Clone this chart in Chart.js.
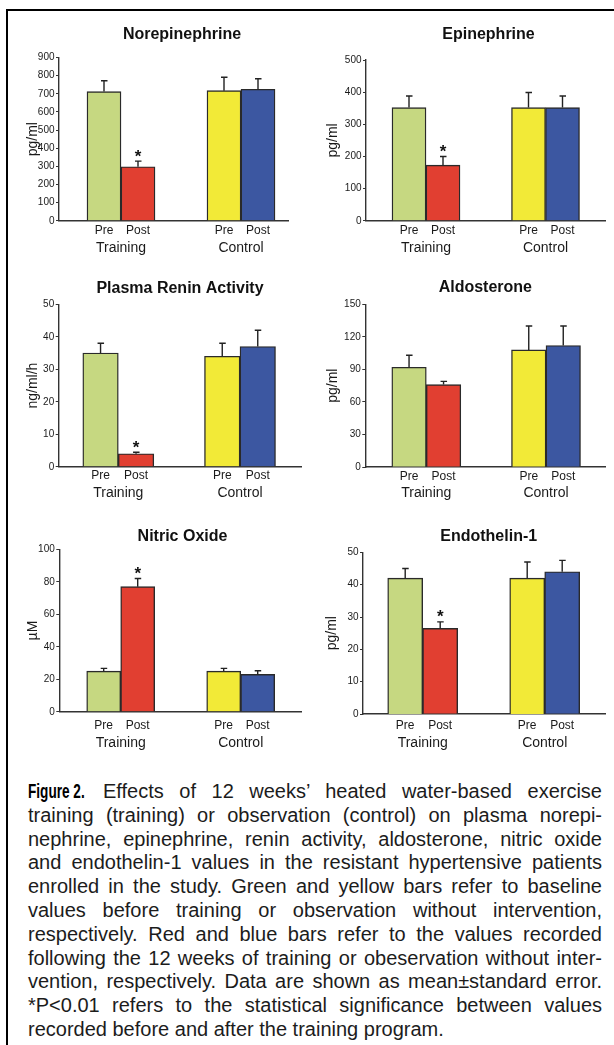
<!DOCTYPE html>
<html><head><meta charset="utf-8">
<script src="https://cdn.jsdelivr.net/npm/chart.js@4.4.1/dist/chart.umd.min.js"></script>
<style>
html,body{margin:0;padding:0;width:614px;height:1045px;overflow:hidden;background:#fff;}
#frame{position:absolute;left:6px;top:9px;width:800px;height:1200px;border:2.6px solid #000;box-sizing:border-box;}
.pw{position:absolute;}
#cap{position:absolute;left:28px;top:780px;width:574px;font-family:"Liberation Sans",Arial,sans-serif;font-size:20px;line-height:23.8px;color:#1c1c1c;}
#cap div{text-align:justify;text-align-last:justify;}
#cap div.last{text-align:left;text-align-last:left;}
.fig{display:inline-block;width:57px;margin-right:18px;}
.fig span{display:inline-block;transform:scaleX(0.68);transform-origin:0 50%;white-space:nowrap;font-weight:bold;color:#000;}
</style></head>
<body>
<div id="frame"></div>
<div id="charts"></div>
<div id="cap">
<div><span class="fig"><span>Figure 2.</span></span>Effects of 12 weeks’ heated water-based exercise</div>
<div>training (training) or observation (control) on plasma norepi-</div>
<div>nephrine, epinephrine, renin activity, aldosterone, nitric oxide</div>
<div>and endothelin-1 values in the resistant hypertensive patients</div>
<div>enrolled in the study. Green and yellow bars refer to baseline</div>
<div>values before training or observation without intervention,</div>
<div>respectively. Red and blue bars refer to the values recorded</div>
<div>following the 12 weeks of training or obeservation without inter-</div>
<div>vention, respectively. Data are shown as mean±standard error.</div>
<div>*P&lt;0.01 refers to the statistical significance between values</div>
<div class="last">recorded before and after the training program.</div>
</div>
<script>
// ---- data ----
const panelTitles = ["Norepinephrine", "Epinephrine", "Plasma Renin Activity", "Aldosterone", "Nitric Oxide", "Endothelin-1"];
const yUnits = ["pg/ml", "pg/ml", "ng/ml/h", "pg/ml", "µM", "pg/ml"];
const yMax = [900, 500, 50, 150, 100, 50];
const yStep = [100, 100, 10, 30, 20, 10];
const groupLabels = ["Training", "Control"];
const phaseLabels = ["Pre", "Post"];
const preMeans   = [[712, 717], [352, 352], [35, 34], [92, 108], [25, 25], [42, 42]];
const preErrors  = [[60, 74], [36, 47], [3, 4], [11, 22], [1.7, 1.7], [3, 5]];
const postMeans  = [[298, 725], [173, 352], [4, 37], [76, 112], [77, 23], [26.5, 44]];
const postErrors = [[31, 58], [27, 36], [0.5, 5], [3, 18], [5, 2.3], [2, 3.5]];
const postStars  = [[true, false], [true, false], [true, false], [false, false], [true, false], [true, false]];

// ---- styles / layout ----
const preColors = ["#c6d881", "#f2ea37"];
const postColors = ["#e13f31", "#3c57a1"];
const FONT = '"Liberation Sans", Arial, sans-serif';
const INK = '#1a1a1a';
// axisX, axisEnd, trainCenter, ctrlCenter, barW, titleX, titleY, topY, zeroY, preY, trainY, unitOffset
const panelLayout = [
  [59, 288, 121, 241, 34, 182, 35, 57.5, 220.7, 231, 248.3, 26],
  [366, 605, 426, 545.5, 34, 488.5, 35, 60, 220.7, 231, 248.3, 33],
  [58.7, 301, 118.3, 240, 35.5, 180, 288.3, 304.3, 466.7, 476, 493.3, 25.5],
  [365.3, 605, 426.3, 546, 34.5, 485.3, 288, 304.3, 466.7, 476.7, 493, 32.5],
  [59.3, 301, 120.7, 240.7, 34, 182.5, 536.7, 549.3, 711.7, 725.7, 743.3, 26],
  [363, 605, 422.7, 544.7, 35, 488.7, 536.7, 552.3, 714, 725.7, 743.3, 31]
];

const panelTitlePlugin = {
  id: 'panelTitle',
  afterDraw(chart, args, opts) {
    const ctx = chart.ctx;
    ctx.save();
    ctx.font = 'bold 16px ' + FONT;
    ctx.fillStyle = '#111';
    ctx.textAlign = 'center';
    ctx.textBaseline = 'middle';
    ctx.fillText(opts.text, opts.x, opts.y);
    ctx.restore();
  }
};

const errorBarPlugin = {
  id: 'errorBars',
  afterDatasetsDraw(chart) {
    const ctx = chart.ctx;
    const yScale = chart.scales.y;
    ctx.save();
    ctx.strokeStyle = '#222';
    ctx.lineWidth = 1.4;
    chart.data.datasets.forEach((ds, di) => {
      const meta = chart.getDatasetMeta(di);
      meta.data.forEach((bar, j) => {
        const v = ds.data[j].y;
        const yTop = yScale.getPixelForValue(v + ds.errors[j]);
        ctx.beginPath();
        ctx.moveTo(bar.x, bar.y);
        ctx.lineTo(bar.x, yTop);
        ctx.moveTo(bar.x - 3, yTop);
        ctx.lineTo(bar.x + 3.5, yTop);
        ctx.stroke();
        if (ds.stars[j]) {
          ctx.font = 'bold 17px ' + FONT;
          ctx.fillStyle = '#111';
          ctx.textAlign = 'center';
          ctx.textBaseline = 'alphabetic';
          ctx.fillText('*', bar.x, yTop + 0.5);
        }
      });
    });
    ctx.restore();
  }
};

const holder = document.getElementById('charts');
panelLayout.forEach((L, i) => {
  const [axisX, axisEnd, tC, cC, barW, titleX, titleY, topY, zeroY, preY, trainY, unitOff] = L;
  const left = Math.floor(axisX - 50);
  const yW = axisX - left;
  const top = Math.floor(titleY - 14);
  const width = Math.ceil(axisEnd - left + 4);
  const h1 = trainY - zeroY - 8.4;
  const h2 = 22;
  const height = Math.ceil(zeroY - top + h1 + h2);
  const ppu = cC - tC;
  const xMin = 1 - (tC - axisX) / ppu;
  const xMax = 2 + (axisEnd - cC) / ppu;
  const half = barW / 2 / ppu;

  const wrap = document.createElement('div');
  wrap.className = 'pw';
  wrap.style.left = left + 'px';
  wrap.style.top = top + 'px';
  wrap.style.width = width + 'px';
  wrap.style.height = height + 'px';
  const canvas = document.createElement('canvas');
  wrap.appendChild(canvas);
  holder.appendChild(wrap);

  new Chart(canvas, {
    type: 'bar',
    data: {
      datasets: [
        { label: phaseLabels[0], xAxisID: 'x', yAxisID: 'y',
          data: groupLabels.map((g, k) => ({ x: k + 1, y: preMeans[i][k] })),
          errors: preErrors[i], stars: [false, false],
          backgroundColor: preColors },
        { label: phaseLabels[1], xAxisID: 'x', yAxisID: 'y',
          data: groupLabels.map((g, k) => ({ x: k + 1, y: postMeans[i][k] })),
          errors: postErrors[i], stars: postStars[i],
          backgroundColor: postColors }
      ]
    },
    plugins: [panelTitlePlugin, errorBarPlugin],
    options: {
      responsive: true,
      maintainAspectRatio: false,
      animation: false,
      events: [],
      layout: { padding: { top: topY - top, right: width - (axisEnd - left), left: 0, bottom: 0 } },
      datasets: { bar: { barThickness: barW, borderWidth: 1.4, borderColor: '#2a2a2a', borderSkipped: 'start' } },
      plugins: {
        legend: { display: false },
        tooltip: { enabled: false },
        title: { display: false },
        panelTitle: { text: panelTitles[i], x: titleX - left, y: titleY - top }
      },
      scales: {
        x: {
          type: 'linear', position: 'bottom', weight: 0, min: xMin, max: xMax,
          offset: false,
          grid: { display: false, offset: false, drawTicks: false },
          border: { display: true, color: '#333', width: 1.4 },
          afterBuildTicks: s => { s.ticks = [1 - half, 1 + half, 2 - half, 2 + half].map(v => ({ value: v })); },
          ticks: { autoSkip: false, maxRotation: 0, padding: preY - zeroY - 7.2,
                   font: { family: FONT, size: 12 }, color: INK,
                   callback: (v, idx) => phaseLabels[idx % 2] },
          afterFit: s => { s.height = h1; }
        },
        x2: {
          type: 'linear', position: 'bottom', weight: 1, min: xMin, max: xMax,
          offset: false,
          grid: { display: false, offset: false, drawTicks: false },
          border: { display: false },
          afterBuildTicks: s => { s.ticks = [1, 2].map(v => ({ value: v })); },
          ticks: { autoSkip: false, maxRotation: 0, padding: 0,
                   font: { family: FONT, size: 14 }, color: INK,
                   callback: (v, idx) => groupLabels[idx] },
          afterFit: s => { s.height = h2; }
        },
        y: {
          type: 'linear', position: 'left', min: 0, max: yMax[i],
          ticks: { stepSize: yStep[i], padding: 1.5, font: { family: FONT, size: 10 }, color: INK },
          grid: { drawOnChartArea: false, drawTicks: true, tickLength: 3, color: '#333', lineWidth: 1 },
          border: { display: true, color: '#333', width: 1.4 },
          title: { display: true, text: yUnits[i], font: { family: FONT, size: 14 }, color: INK,
                   padding: { top: yW - unitOff - 8.4, bottom: 0 } },
          afterFit: s => { s.width = yW; }
        }
      }
    }
  });
});
</script>
</body></html>
